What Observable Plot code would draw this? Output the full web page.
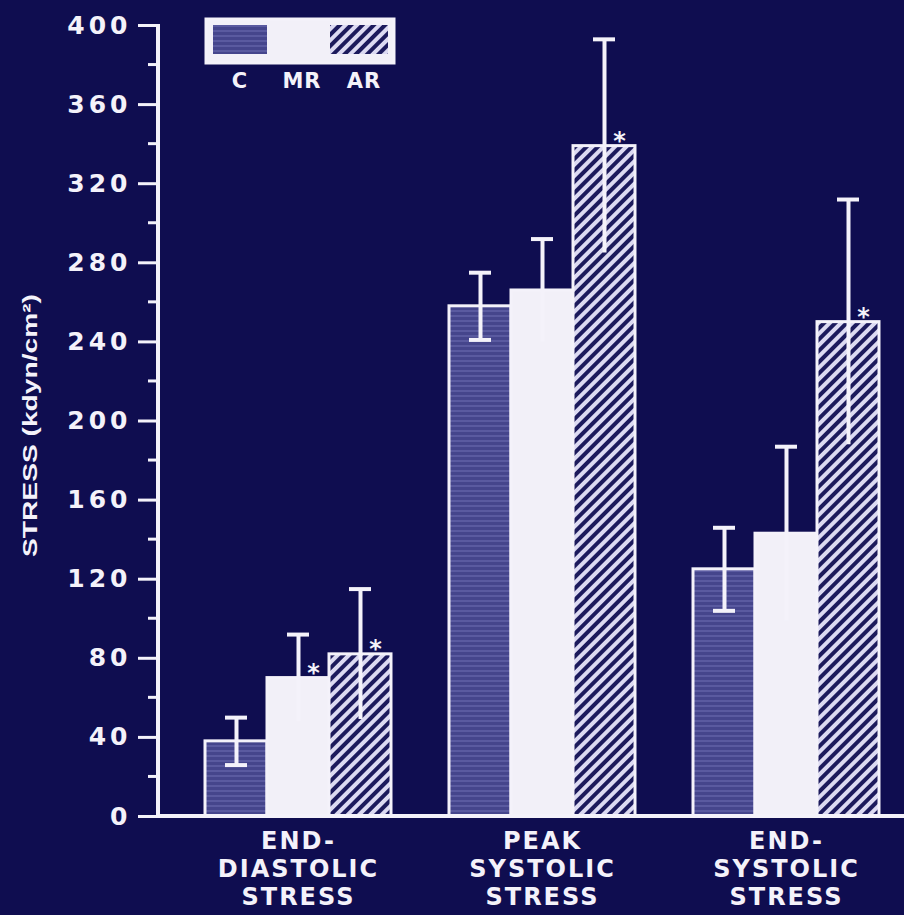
<!DOCTYPE html>
<html><head><meta charset="utf-8">
<script src="https://cdn.jsdelivr.net/npm/d3@7"></script>
<script src="https://cdn.jsdelivr.net/npm/@observablehq/plot@0.6"></script>
<style>
html,body{margin:0;padding:0;background:#0f0d50;}
#chart svg{display:block}
</style></head><body>
<div id="chart"></div>
<script>
// ---- data ----
const groups = ["END-\nDIASTOLIC\nSTRESS", "PEAK\nSYSTOLIC\nSTRESS", "END-\nSYSTOLIC\nSTRESS"];
const seriesNames = ["C", "MR", "AR"];
const meanC  = [38, 258, 125];
const meanMR = [70, 266, 143];
const meanAR = [82, 339, 250];
const sdC  = [12, 17, 21];
const sdMR = [22, 26, 44];
const sdAR = [33, 54, 62];
const starMR = [true, false, false];
const starAR = [true, true, true];
const yTicks = [0, 40, 80, 120, 160, 200, 240, 280, 320, 360, 400];
const yMinorTicks = [20, 60, 100, 140, 180, 220, 260, 300, 340, 380];
const yLabel = "STRESS (kdyn/cm\u00B2)";

const means = {C: meanC, MR: meanMR, AR: meanAR};
const sds = {C: sdC, MR: sdMR, AR: sdAR};
const stars = {C: [false, false, false], MR: starMR, AR: starAR};
const rows = [];
groups.forEach((g, i) => seriesNames.forEach(s => rows.push({
  group: g, series: s, value: means[s][i],
  lo: means[s][i] - sds[s][i], hi: means[s][i] + sds[s][i], star: stars[s][i]
})));

const BG = "#0f0d50";
const INK = "#f4f2fa";
const W = 904, H = 915;
const fills = {C: "url(#patC)", MR: "#f2f0f8", AR: "url(#patAR)"};

const barMarks = seriesNames.map(s => Plot.barY(rows, {
  filter: d => d.series === s, x: "series", y: "value",
  fill: fills[s], stroke: INK, strokeWidth: 3
}));

const chart = Plot.plot({
  width: W, height: H,
  marginLeft: 158, marginRight: 14, marginTop: 25, marginBottom: 99,
  facet: {data: rows, x: "group"},
  fx: {domain: groups, padding: 0, axis: null, label: null},
  x: {domain: seriesNames, paddingInner: 0, paddingOuter: 0.4458, align: 0.8036, axis: null, label: null},
  y: {domain: [0, 400], ticks: yTicks, tickSize: 20, tickPadding: 7, label: null, line: true, tickFormat: d => String(d)},
  style: {background: BG, color: INK, fontFamily: "DejaVu Sans", fontSize: "24px", fontWeight: "bold", letterSpacing: "2px", overflow: "visible"},
  marks: [
    ...barMarks,
    Plot.ruleX(rows, {x: "series", y1: "lo", y2: "hi", stroke: INK, strokeWidth: 4}),
    Plot.tickY(rows, {x: "series", y: "hi", stroke: INK, strokeWidth: 4, insetLeft: 20, insetRight: 20}),
    Plot.tickY(rows, {filter: d => d.series === "C", x: "series", y: "lo", stroke: INK, strokeWidth: 4, insetLeft: 20, insetRight: 20}),
    Plot.text(rows, {filter: d => d.star, x: "series", y: "value", text: d => "*", dx: 16, dy: -5,
      fill: INK, fontSize: 24, fontWeight: "bold", fontFamily: "DejaVu Sans"}),
    Plot.text(rows, {filter: d => d.series === "MR", x: "series", text: "group", frameAnchor: "bottom",
      lineAnchor: "top", dy: 13, lineHeight: 1.167, fill: INK, fontSize: 24, fontWeight: "bold", fontFamily: "DejaVu Sans"})
  ]
});

document.getElementById("chart").appendChild(chart);

// ---- post-render decoration using Plot's own y scale ----
const svg = d3.select(chart);
const y = chart.scale("y");
const defs = svg.insert("defs", ":first-child");
const pc = defs.append("pattern").attr("id", "patC").attr("patternUnits", "userSpaceOnUse").attr("width", 8).attr("height", 5);
pc.append("rect").attr("width", 8).attr("height", 5).attr("fill", "#45458c");
pc.append("rect").attr("y", 0).attr("width", 8).attr("height", 2).attr("fill", "#5a5aa0");
const pa = defs.append("pattern").attr("id", "patAR").attr("patternUnits", "userSpaceOnUse").attr("width", 8).attr("height", 8).attr("patternTransform", "rotate(45)");
pa.append("rect").attr("width", 8).attr("height", 8).attr("fill", "#dcdaf2");
pa.append("rect").attr("width", 4).attr("height", 8).attr("fill", "#1c1a5c");

// y axis styling: thicker line and ticks, wider spaced labels
svg.selectAll('g[aria-label^="y-axis"]').attr("stroke-width", 3);
svg.selectAll('g[aria-label^="y-axis"] path, g[aria-label^="y-axis"] line').attr("stroke-width", 3);
svg.selectAll('g[aria-label^="y-axis"] text').style("letter-spacing", "4px").style("font-size", "25px");

const deco = svg.append("g").attr("stroke", INK);
// minor ticks
deco.selectAll("line.minor").data(yMinorTicks).join("line")
  .attr("x1", 148).attr("x2", 158).attr("y1", d => y.apply(d)).attr("y2", d => y.apply(d)).attr("stroke-width", 3);
// axis line (drawn on top to ensure thickness) and continuous baseline
deco.append("line").attr("x1", 158).attr("x2", 158).attr("y1", y.apply(0)).attr("y2", y.apply(400) - 1).attr("stroke-width", 4);
deco.append("line").attr("x1", 156).attr("x2", W).attr("y1", y.apply(0)).attr("y2", y.apply(0)).attr("stroke-width", 4);

// y label
svg.append("text").attr("transform", `translate(37,${(y.apply(0) + y.apply(400)) / 2 + 5}) rotate(-90)`)
  .attr("text-anchor", "middle").attr("fill", INK)
  .style("font-family", "Liberation Sans").style("font-size", "21px").style("font-weight", "bold").style("letter-spacing", "0px")
  .attr("textLength", 263).attr("lengthAdjust", "spacingAndGlyphs")
  .text(yLabel);

// legend
const lg = svg.append("g");
lg.append("rect").attr("x", 206).attr("y", 19).attr("width", 188).attr("height", 44).attr("fill", "#f2f0f8").attr("stroke", INK).attr("stroke-width", 3);
lg.append("rect").attr("x", 213).attr("y", 25).attr("width", 54).attr("height", 29).attr("fill", "url(#patC)");
lg.append("rect").attr("x", 330).attr("y", 25).attr("width", 58).attr("height", 29).attr("fill", "url(#patAR)");
lg.selectAll("text").data(seriesNames).join("text")
  .attr("x", (d, i) => [240, 302, 364][i]).attr("y", 88).attr("text-anchor", "middle").attr("fill", INK)
  .style("font-family", "DejaVu Sans").style("font-size", "21px").style("font-weight", "bold").style("letter-spacing", "1px")
  .text(d => d);
</script>
</body></html>
